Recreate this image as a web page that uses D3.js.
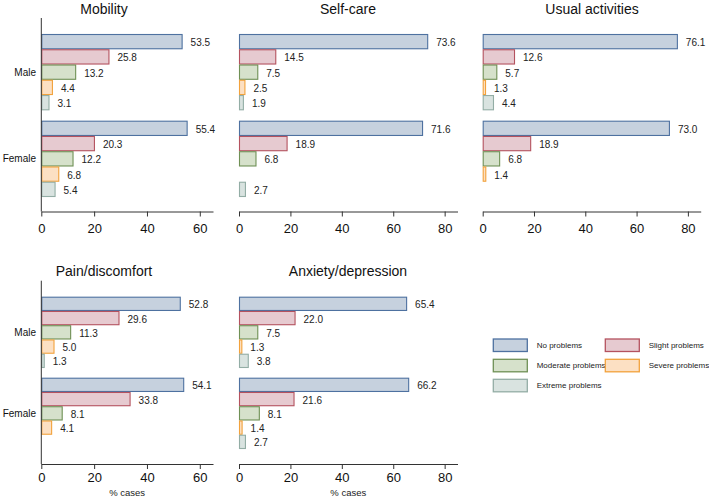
<!DOCTYPE html>
<html>
<head>
<meta charset="utf-8">
<script src="https://cdn.jsdelivr.net/npm/d3@7"></script>
<style>
  body { margin: 0; background: #fff; }
  svg { display: block; font-family: "Liberation Sans", Arial, sans-serif; }
</style>
</head>
<body>
<svg id="chart" width="709" height="496"></svg>
<script>
const groups = ["Male", "Female"];
const series = ["No problems", "Slight problems", "Moderate problems", "Severe problems", "Extreme problems"];
const fills = ["#c6d1de", "#e6cad0", "#d6e1cb", "#fce0c3", "#d9e3e0"];
const strokes = ["#4e71a0", "#b4525f", "#6f9055", "#f2a23c", "#93ada5"];
const dimensions = ["Mobility", "Self-care", "Usual activities", "Pain/discomfort", "Anxiety/depression"];
const xMax = [65, 85, 85, 65, 85];
const xTicks = [[0, 20, 40, 60], [0, 20, 40, 60, 80], [0, 20, 40, 60, 80], [0, 20, 40, 60], [0, 20, 40, 60, 80]];
// values[dimension][group][series]; null = no bar
const mobility = [[53.5, 25.8, 13.2, 4.4, 3.1], [55.4, 20.3, 12.2, 6.8, 5.4]];
const selfCare = [[73.6, 14.5, 7.5, 2.5, 1.9], [71.6, 18.9, 6.8, null, 2.7]];
const usualActivities = [[76.1, 12.6, 5.7, 1.3, 4.4], [73.0, 18.9, 6.8, 1.4, null]];
const painDiscomfort = [[52.8, 29.6, 11.3, 5.0, 1.3], [54.1, 33.8, 8.1, 4.1, null]];
const anxietyDepression = [[65.4, 22.0, 7.5, 1.3, 3.8], [66.2, 21.6, 8.1, 1.4, 2.7]];
const values = [mobility, selfCare, usualActivities, painDiscomfort, anxietyDepression];

const svg = d3.select("#chart");

// layout per panel
const panels = [
  { x0: 41.3, x1: 213,   top: 18,    base: 211.5, b0: 34,    b1: 197,   titleY: 14,  yAxis: true,  xTitle: false, pad: 7 },
  { x0: 239,  x1: 457.5, top: 18,    base: 211.5, b0: 34,    b1: 197,   titleY: 14,  yAxis: false, xTitle: false, pad: 7 },
  { x0: 482.7,x1: 700.7, top: 18,    base: 211.5, b0: 34,    b1: 197,   titleY: 14,  yAxis: false, xTitle: false, pad: 7 },
  { x0: 41.3, x1: 213,   top: 280.7, base: 464,   b0: 296.7, b1: 449,   titleY: 276, yAxis: true,  xTitle: true,  pad: 3.5 },
  { x0: 239,  x1: 457.5, top: 280.7, base: 464,   b0: 296.7, b1: 449,   titleY: 276, yAxis: false, xTitle: true,  pad: 3.5 }
];
const titleCx = [104, 348, 592, 104, 348];

panels.forEach((p, i) => {
  const g = svg.append("g");
  const x = d3.scaleLinear().domain([0, xMax[i]]).range([p.x0, p.x1]);
  const y = d3.scaleBand().domain(groups).range([p.b0, p.b1]).paddingInner(0.12).paddingOuter(0);
  const ys = d3.scaleBand().domain(d3.range(series.length)).range([0, y.bandwidth()]).padding(0);

  // title
  g.append("text").attr("x", titleCx[i]).attr("y", p.titleY)
    .attr("text-anchor", "middle").attr("font-size", 14).attr("fill", "#111")
    .text(dimensions[i]);

  // bars
  groups.forEach((grp, gi) => {
    const gg = g.append("g");
    const data = values[i][gi].map((v, si) => ({ v, si })).filter(d => d.v !== null);
    gg.selectAll("rect").data(data).join("rect")
      .attr("x", x(0) + 0.5)
      .attr("y", d => y(grp) + ys(d.si) + 0.5)
      .attr("width", d => Math.max(0, x(d.v) - x(0) - 1))
      .attr("height", ys.bandwidth() - 1)
      .attr("fill", d => fills[d.si])
      .attr("stroke", d => strokes[d.si])
      .attr("stroke-width", 1.1);
    gg.selectAll("text").data(data).join("text")
      .attr("x", d => x(d.v) + 8)
      .attr("y", d => y(grp) + ys(d.si) + ys.bandwidth() / 2 + 1)
      .attr("dy", "0.35em")
      .attr("font-size", 10).attr("fill", "#222")
      .text(d => d3.format(".1f")(d.v));
  });

  // x axis
  const ax = g.append("g").attr("transform", `translate(0,${p.base})`)
    .call(d3.axisBottom(x).tickValues(xTicks[i]).tickSize(5).tickSizeOuter(0).tickPadding(p.pad).tickFormat(d3.format("d")));
  ax.select(".domain").attr("stroke", "#333");
  ax.selectAll(".tick line").attr("stroke", "#333");
  ax.selectAll(".tick text").attr("font-size", 13).attr("fill", "#111")
    .attr("font-family", "Liberation Sans, Arial, sans-serif");

  if (p.yAxis) {
    g.append("line").attr("x1", p.x0).attr("x2", p.x0).attr("y1", p.top).attr("y2", p.base)
      .attr("stroke", "#333");
    groups.forEach(grp => {
      g.append("text").attr("x", 36).attr("y", y(grp) + y.bandwidth() / 2)
        .attr("dy", "0.35em").attr("text-anchor", "end").attr("font-size", 10).attr("fill", "#111")
        .text(grp);
    });
  }
  if (p.xTitle) {
    g.append("text").attr("x", (p.x0 + p.x1) / 2).attr("y", 495.5)
      .attr("text-anchor", "middle").attr("font-size", 9.5).attr("fill", "#222")
      .text("% cases");
  }
});

// legend
const legendCols = [493.3, 605.3];
const legendRows = [339, 359.3, 379.3];
const lg = svg.append("g");
series.forEach((s, si) => {
  const cx = legendCols[si % 2];
  const cy = legendRows[Math.floor(si / 2)];
  lg.append("rect").attr("x", cx).attr("y", cy).attr("width", 34).attr("height", 12.5)
    .attr("fill", fills[si]).attr("stroke", strokes[si]).attr("stroke-width", 1.3);
  lg.append("text").attr("x", cx + 43.4).attr("y", cy + 6.3).attr("dy", "0.35em")
    .attr("font-size", 8).attr("fill", "#222").text(s);
});
</script>
</body>
</html>
